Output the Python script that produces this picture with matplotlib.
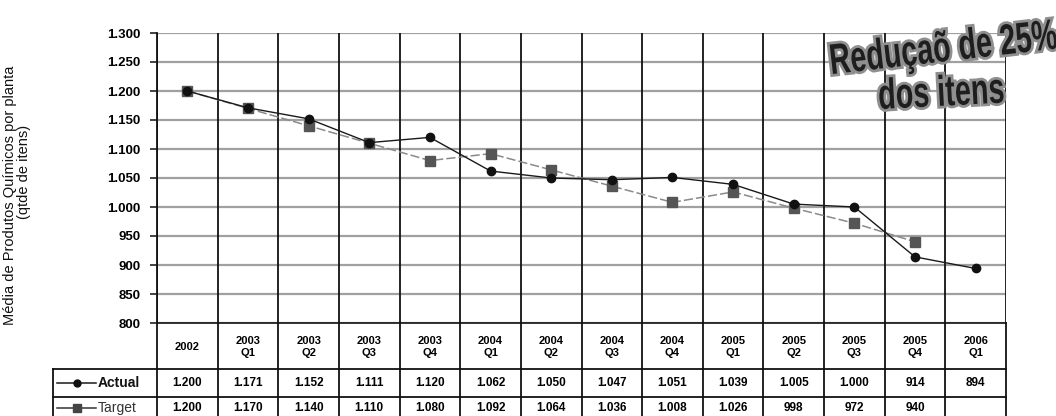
import matplotlib
matplotlib.use("Agg")
import matplotlib.pyplot as plt
import matplotlib.transforms as mtransforms
import matplotlib.patheffects as pe
from matplotlib.lines import Line2D
from matplotlib.textpath import TextPath
from matplotlib.patches import PathPatch
from matplotlib.font_manager import FontProperties
import numpy as np

# ---- data -------------------------------------------------------------
periods = ["2002", "2003\nQ1", "2003\nQ2", "2003\nQ3", "2003\nQ4",
           "2004\nQ1", "2004\nQ2", "2004\nQ3", "2004\nQ4",
           "2005\nQ1", "2005\nQ2", "2005\nQ3", "2005\nQ4", "2006\nQ1"]
actual = [1200, 1171, 1152, 1111, 1120, 1062, 1050, 1047, 1051, 1039,
          1005, 1000, 914, 894]
target = [1200, 1170, 1140, 1110, 1080, 1092, 1064, 1036, 1008, 1026,
          998, 972, 940, None]
y_ticks = [800, 850, 900, 950, 1000, 1050, 1100, 1150, 1200, 1250, 1300]
series_names = ["Actual", "Target"]
y_label_1 = "Média de Produtos Químicos por planta"
y_label_2 = "(qtde de itens)"
note = ["Reduçaõ de 25%", "dos itens"]


def fmt_pt(v):
    if v is None:
        return ""
    return f"{v:,}".replace(",", ".")


# ---- figure -----------------------------------------------------------
W, H = 1056, 416
plt.rcParams["font.family"] = ["Liberation Sans", "DejaVu Sans"]
fig = plt.figure(figsize=(W / 100, H / 100), dpi=100)

x0, x1 = 157, 1006
y_top, y_bot = 33, 323
ax = fig.add_axes([x0 / W, 1 - y_bot / H, (x1 - x0) / W, (y_bot - y_top) / H])

n = len(periods)
xs = np.arange(n)
ax.set_xlim(-0.5, n - 0.5)
ax.set_ylim(800, 1300)

# grid
for v in y_ticks:
    ax.axhline(v, color="#a0a0a0", lw=1.6, zorder=1)
for i in range(n + 1):
    ax.axvline(i - 0.5, color="#111111", lw=1.3, zorder=2)

ax.set_xticks([])
ax.set_yticks(y_ticks)
ax.set_yticklabels([fmt_pt(v) for v in y_ticks], fontsize=9.5, fontweight="bold")
ax.tick_params(axis="y", direction="out", length=5, width=1.2, color="#222", pad=7)
for s in ["top", "right"]:
    ax.spines[s].set_visible(False)
ax.spines["left"].set_color("#111")
ax.spines["left"].set_linewidth(1.3)
ax.spines["bottom"].set_color("#222")
ax.spines["bottom"].set_linewidth(1.3)

# series
t_x = [x for x, v in zip(xs, target) if v is not None]
t_y = [v for v in target if v is not None]
ax.plot(t_x, t_y, color="#8a8a8a", lw=1.1, ls=(0, (6, 2)), marker="s",
        ms=6.5, mfc="#555555", mec="#555555", zorder=4)
ax.plot(xs, actual, color="#1a1a1a", lw=1.0, marker="o", ms=6,
        mfc="#111111", mec="#111111", zorder=5)

# ---- data table under the plot ---------------------------------------
tr = mtransforms.blended_transform_factory(ax.transData, fig.transFigure)


def fy(py):
    return 1 - py / H


def fx(px):
    return px / W


row_head, row_a = 369, 397
for i in range(n + 1):
    fig.add_artist(Line2D([i - 0.5, i - 0.5], [0, fy(y_bot)], transform=tr,
                          color="#111", lw=1.3))
for py in (row_head, row_a):
    fig.add_artist(Line2D([fx(53), fx(x1)], [fy(py), fy(py)],
                          transform=fig.transFigure, color="#111", lw=1.3))
fig.add_artist(Line2D([fx(53), fx(53)], [0, fy(row_head)],
                      transform=fig.transFigure, color="#111", lw=1.3))

ya = fy((row_head + row_a) / 2)
yt = fy(408)
for i, lab in enumerate(periods):
    fig.text(i, fy((y_bot + row_head) / 2 + 1), lab, transform=tr,
             ha="center", va="center", fontsize=8, fontweight="bold",
             linespacing=1.15)
    fig.text(i, ya, fmt_pt(actual[i]), transform=tr,
             ha="center", va="center", fontsize=8.5, fontweight="bold")
    fig.text(i, yt, fmt_pt(target[i]), transform=tr,
             ha="center", va="center", fontsize=8.5, fontweight="bold")

# legend keys inside the table
fig.add_artist(Line2D([fx(57), fx(96)], [ya, ya], transform=fig.transFigure,
                      color="#1a1a1a", lw=1.1))
fig.add_artist(Line2D([fx(77)], [ya], transform=fig.transFigure,
                      marker="o", ms=5, mfc="#111", mec="#111", ls="none"))
fig.add_artist(Line2D([fx(57), fx(96)], [yt, yt], transform=fig.transFigure,
                      color="#333", lw=1.1))
fig.add_artist(Line2D([fx(77)], [yt], transform=fig.transFigure,
                      marker="s", ms=6, mfc="#444", mec="#444", ls="none"))
fig.text(fx(98), ya, series_names[0], ha="left", va="center", fontsize=10,
         fontweight="bold", color="#111")
fig.text(fx(98), yt, series_names[1], ha="left", va="center", fontsize=10,
         color="#333")

# axis title
fig.text(fx(10), fy(195), y_label_1, rotation=90, ha="center", va="center",
         fontsize=10.5, color="#111")
fig.text(fx(24), fy(172), y_label_2, rotation=90, ha="center", va="center",
         fontsize=10.5, color="#111")

# highlighted note, drawn as condensed outlines
note_font = FontProperties(family="Liberation Sans", weight="bold")


def condensed_text(text, left_px, base_px, size, squeeze, angle):
    path = TextPath((0, 0), text, size=size, prop=note_font)
    ext = path.get_extents()
    t = (mtransforms.Affine2D()
         .translate(-ext.x0, 0)
         .scale(squeeze, 1.0)
         .rotate_deg(angle)
         .translate(left_px, H - base_px))
    patch = PathPatch(path, facecolor="#1e1e1e", edgecolor="none",
                      transform=t, zorder=10)
    patch.set_path_effects([pe.Stroke(linewidth=4, foreground="#8f8f8f"),
                            pe.Normal()])
    fig.add_artist(patch)


condensed_text(note[0], 833, 74, 43, 0.67, 6.5)
condensed_text(note[1], 880, 109, 43, 0.67, 3.0)

fig.savefig("out.png", dpi=100)
